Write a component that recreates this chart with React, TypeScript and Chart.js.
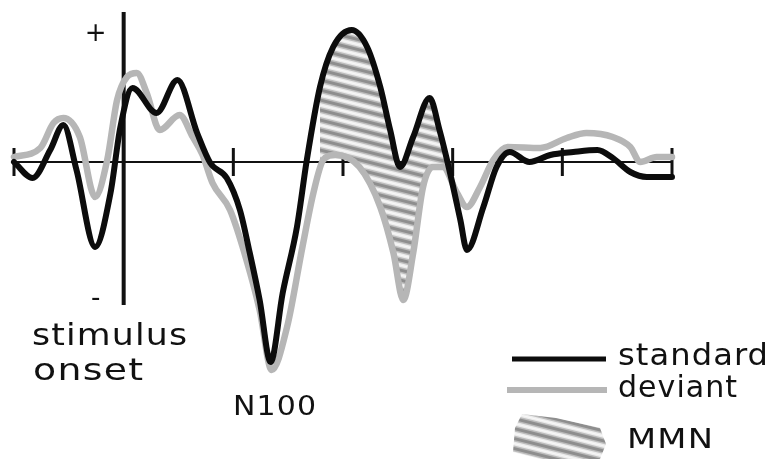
import React, { useEffect, useRef } from "react";
import { Chart, registerables } from "chart.js";

Chart.register(...registerables);

// Time (ms) relative to stimulus onset and amplitude (µV, positive up)
const standardTimes = [-100, -83, -67, -55, -43, -26, -12, -3, 8, 30, 49, 67, 79, 94, 106, 115, 124, 134, 145, 158, 167, 179, 191, 208, 222, 234, 243, 252, 264, 279, 288, 297, 307, 313, 328, 340, 352, 370, 389, 410, 432, 446, 462, 477, 500];
const standardValues = [0, -0.8, 0.6, 1.85, -0.4, -4.25, -1.55, 1.75, 3.7, 2.45, 4.1, 1.45, -0.05, -0.8, -2.4, -4.55, -6.9, -10.0, -6.55, -3.25, 0.1, 3.75, 5.75, 6.6, 5.75, 3.75, 1.6, -0.25, 1.25, 3.2, 1.6, -0.4, -2.9, -4.4, -2.25, -0.25, 0.5, 0, 0.35, 0.5, 0.6, 0.2, -0.5, -0.75, -0.75];

const deviantTimes = [-100, -76, -64, -55, -40, -26, -15, -6, 3, 12, 21, 33, 51, 63, 72, 81, 97, 112, 124, 135, 149, 163, 173, 182, 193, 215, 234, 246, 255, 264, 273, 282, 291, 304, 313, 325, 337, 350, 380, 404, 422, 446, 462, 471, 486, 500];
const deviantValues = [0.25, 0.7, 1.95, 2.2, 1.25, -1.75, 0.1, 3.1, 4.25, 4.45, 3.45, 1.6, 2.35, 1.25, 0.35, -1.05, -2.4, -4.9, -7.4, -10.4, -8.25, -4.25, -1.55, 0.1, 0.35, -0.25, -2.25, -4.55, -6.9, -4.55, -1.25, -0.25, -0.25, -1.55, -2.25, -1.25, 0.1, 0.75, 0.7, 1.2, 1.45, 1.25, 0.75, 0, 0.25, 0.25];

const mmnWindow = [175, 300]; // ms, MMN shaded between the two curves
const xTicks = [-100, 0, 100, 200, 300, 400, 500];
const seriesLabels = ["standard", "deviant", "MMN"];

const FONT = '"DejaVu Sans", sans-serif';

function makePattern(): CanvasPattern | string {
  const W = 40;
  const H = 10;
  const c = document.createElement("canvas");
  c.width = W;
  c.height = H;
  const g = c.getContext("2d");
  if (!g) return "#aaa";
  g.fillStyle = "#ececec";
  g.fillRect(0, 0, W, H);
  const slope = H / W; // continuous diagonal streaks that tile seamlessly
  const band = (y: number, color: string, w: number) => {
    g.strokeStyle = color;
    g.lineWidth = w;
    for (const oy of [-2 * H, -H, 0, H, 2 * H]) {
      g.beginPath();
      g.moveTo(-5, y + oy - 5 * slope);
      g.lineTo(W + 5, y + oy + (W + 5) * slope);
      g.stroke();
    }
  };
  band(0, "#bcbcbc", 6);
  band(0, "#8e8e8e", 3);
  band(5, "#f8f8f8", 1.2);
  const p = g.createPattern(c, "repeat");
  return p || "#aaa";
}

function fitText(ctx: CanvasRenderingContext2D, text: string, x: number, y: number, size: number, targetW: number) {
  ctx.font = `${size}px ${FONT}`;
  (ctx as any).letterSpacing = "1px";
  const w = ctx.measureText(text).width - 1;
  const sx = Math.min(1.3, Math.max(0.8, targetW / w));
  ctx.save();
  ctx.translate(x, y);
  ctx.scale(sx, 1);
  ctx.fillText(text, 0, 0);
  ctx.restore();
  (ctx as any).letterSpacing = "0px";
}

const axesPlugin = {
  id: "erpAxes",
  beforeDatasetsDraw(chart: any) {
    const { ctx, scales, chartArea } = chart;
    const xs = scales.x;
    const ys = scales.y;
    const y0 = ys.getPixelForValue(0);
    ctx.save();
    ctx.strokeStyle = "#111";
    ctx.lineWidth = 2;
    ctx.beginPath();
    ctx.moveTo(xs.getPixelForValue(xTicks[0]), y0);
    ctx.lineTo(xs.getPixelForValue(xTicks[xTicks.length - 1]), y0);
    ctx.stroke();
    ctx.lineWidth = 3;
    xTicks.forEach((t) => {
      if (t === 0) return;
      const px = xs.getPixelForValue(t);
      ctx.beginPath();
      ctx.moveTo(px, y0 - 14);
      ctx.lineTo(px, y0 + 14);
      ctx.stroke();
    });
    const xo = xs.getPixelForValue(0);
    ctx.lineWidth = 4;
    ctx.beginPath();
    ctx.moveTo(xo, chartArea.top);
    ctx.lineTo(xo, chartArea.bottom);
    ctx.stroke();
    ctx.restore();
  },
  afterDraw(chart: any) {
    const { ctx, scales, data } = chart;
    const xs = scales.x;
    const ys = scales.y;
    ctx.save();
    ctx.fillStyle = "#111";
    ctx.textBaseline = "alphabetic";
    // polarity marks
    const xo = xs.getPixelForValue(0);
    ctx.textAlign = "center";
    ctx.font = `26px ${FONT}`;
    ctx.fillText("+", xo - 28, ys.getPixelForValue(6.5) + 9);
    ctx.fillText("-", xo - 28, ys.getPixelForValue(-6.75) + 9);
    ctx.textAlign = "left";
    // annotations
    fitText(ctx, "stimulus", 32, 345, 30, 155);
    fitText(ctx, "onset", 33, 380, 30, 110);
    fitText(ctx, "N100", 233, 415, 27, 83);
    // legend
    const ds = data.datasets;
    ctx.lineCap = "butt";
    ctx.strokeStyle = ds[0].borderColor;
    ctx.lineWidth = 5;
    ctx.beginPath();
    ctx.moveTo(512, 359);
    ctx.lineTo(606, 359);
    ctx.stroke();
    ctx.strokeStyle = ds[1].borderColor;
    ctx.lineWidth = 6;
    ctx.beginPath();
    ctx.moveTo(507, 390);
    ctx.lineTo(607, 390);
    ctx.stroke();
    const fillStyle = ds[2].fill && ds[2].fill.above;
    ctx.fillStyle = fillStyle || "#aaa";
    ctx.beginPath();
    ctx.moveTo(522, 414);
    ctx.lineTo(556, 418);
    ctx.lineTo(600, 428);
    ctx.lineTo(606, 444);
    ctx.lineTo(600, 459);
    ctx.lineTo(540, 459);
    ctx.lineTo(513, 452);
    ctx.lineTo(515, 428);
    ctx.closePath();
    ctx.fill();
    ctx.fillStyle = "#111";
    fitText(ctx, ds[0].label, 618, 365, 30, 150);
    fitText(ctx, ds[1].label, 618, 397, 30, 119);
    fitText(ctx, ds[2].label, 627, 448, 27, 86);
    ctx.restore();
  },
};

export default function App() {
  const ref = useRef<HTMLCanvasElement | null>(null);
  useEffect(() => {
    if (!ref.current) return;
    const pattern = makePattern();
    const std = standardTimes.map((t, i) => ({ x: t, y: standardValues[i] }));
    const dev = deviantTimes.map((t, i) => ({ x: t, y: deviantValues[i] }));
    const mmn = std.filter((p) => p.x >= mmnWindow[0] && p.x <= mmnWindow[1]);
    const chart = new Chart(ref.current, {
      type: "line",
      data: {
        datasets: [
          {
            label: seriesLabels[0],
            data: std,
            borderColor: "#0c0c0c",
            borderWidth: 6,
            pointRadius: 0,
            cubicInterpolationMode: "monotone",
            borderCapStyle: "round",
            borderJoinStyle: "round",
            fill: false,
            clip: false,
            order: 1,
          } as any,
          {
            label: seriesLabels[1],
            data: dev,
            borderColor: "#b6b6b6",
            borderWidth: 6.5,
            pointRadius: 0,
            cubicInterpolationMode: "monotone",
            borderCapStyle: "round",
            borderJoinStyle: "round",
            fill: false,
            clip: false,
            order: 2,
          } as any,
          {
            label: seriesLabels[2],
            data: mmn,
            borderColor: "rgba(0,0,0,0)",
            borderWidth: 0,
            pointRadius: 0,
            cubicInterpolationMode: "monotone",
            fill: { target: 1, above: pattern, below: "rgba(0,0,0,0)" },
            clip: false,
            order: 3,
          } as any,
        ],
      },
      options: {
        responsive: false,
        animation: false,
        devicePixelRatio: 1,
        events: [],
        layout: { padding: { left: 14, right: 102, top: 12, bottom: 154 } },
        scales: {
          x: { type: "linear", min: -100, max: 500, display: false, ticks: { stepSize: 100 } },
          y: { type: "linear", min: -7.15, max: 7.5, display: false },
        },
        plugins: { legend: { display: false }, tooltip: { enabled: false }, title: { display: false } },
      },
      plugins: [axesPlugin],
    } as any);
    return () => chart.destroy();
  }, []);
  return (
    <div style={{ position: "absolute", left: 0, top: 0, width: 774, height: 459, background: "#fff" }}>
      <canvas ref={ref} width={774} height={459} style={{ display: "block" }} />
    </div>
  );
}
